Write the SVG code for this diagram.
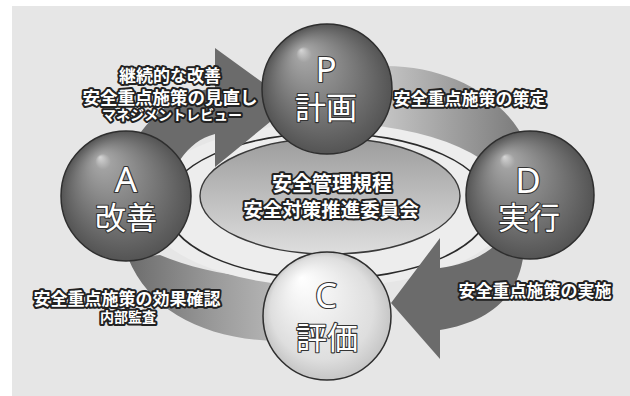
<svg xmlns="http://www.w3.org/2000/svg" width="630" height="396" viewBox="0 0 630 396">
<defs>
<radialGradient id="sphereDark" cx="0.5" cy="0.5" r="0.5" fx="0.3" fy="0.2">
<stop offset="0" stop-color="#d6d6d6"/>
<stop offset="0.12" stop-color="#a2a2a2"/>
<stop offset="0.55" stop-color="#7c7c7c"/>
<stop offset="1" stop-color="#545454"/>
</radialGradient>
<radialGradient id="sphereLight" cx="0.5" cy="0.5" r="0.5" fx="0.3" fy="0.2">
<stop offset="0" stop-color="#ffffff"/>
<stop offset="0.3" stop-color="#f3f3f3"/>
<stop offset="0.8" stop-color="#dedede"/>
<stop offset="1" stop-color="#c6c6c6"/>
</radialGradient>
<linearGradient id="centerGrad" x1="0" y1="0" x2="0" y2="1">
<stop offset="0" stop-color="#9c9c9c"/>
<stop offset="1" stop-color="#dedede"/>
</linearGradient>
<linearGradient id="bandPD" x1="0" y1="0" x2="1" y2="0">
<stop offset="0" stop-color="#c6c6c6"/>
<stop offset="1" stop-color="#787878"/>
</linearGradient>
<linearGradient id="bandCA" x1="0" y1="0" x2="1" y2="0">
<stop offset="0" stop-color="#6c6c6c"/>
<stop offset="0.6" stop-color="#9a9a9a"/>
<stop offset="1" stop-color="#b4b4b4"/>
</linearGradient>
<style>
.lbl{font-family:"Noto Sans CJK JP","Noto Sans",sans-serif;font-weight:700;fill:#ffffff;stroke:#222222;stroke-width:4;stroke-linejoin:round;paint-order:stroke;text-anchor:middle}
.big{font-family:"Noto Sans CJK JP","Noto Sans",sans-serif;font-weight:400;fill:#ffffff;stroke:#333333;stroke-width:2.2;stroke-linejoin:round;paint-order:stroke;text-anchor:middle;font-size:31px}
.letter{font-family:"Noto Sans","Noto Sans CJK JP",sans-serif;font-weight:400;fill:#ffffff;stroke:#333333;stroke-width:2.2;stroke-linejoin:round;paint-order:stroke;text-anchor:middle;font-size:35px}
.sphere{stroke:#2e2e2e;stroke-width:1.5}
.arrow{fill:#6b6b6b}
</style>
</defs>
<rect x="12" y="6" width="618" height="390" fill="#e6e6e6"/>
<g id="connectors">
<path id="band-P-D" d="M380,66 C445,64 505,95 527,145 L470,172 C450,150 420,136 380,132 Z" fill="url(#bandPD)"/>
<path id="band-C-A" d="M272,280 C230,276 190,268 160,255 L128,258 C150,312 205,338 272,341 Z" fill="url(#bandCA)"/>
<ellipse id="plate" cx="328" cy="205" rx="185" ry="82" fill="#ededed"/>
<ellipse id="ring" cx="328" cy="206" rx="162" ry="73" fill="none" stroke="#2a2a2a" stroke-width="1.6"/>
<path id="arrow-A-P" class="arrow" d="M138,136 C160,105 185,92 215,88 L215,48 L292,104 L215,167 L215,134 C200,138 190,146 180,160 Z"/>
<path id="arrow-D-C" class="arrow" d="M440,268 C468,264 488,254 500,240 L524,250 C520,298 488,322 440,330 L440,359 L391,303 L440,238 Z"/>
</g>
<g id="center">
<ellipse cx="330" cy="196" rx="130" ry="58" fill="url(#centerGrad)" stroke="#3a3a3a" stroke-width="1.4"/>
<text class="lbl" x="332" y="191" font-size="20">安全管理規程</text>
<text class="lbl" x="331" y="217" font-size="19.5">安全対策推進委員会</text>
</g>
<g id="node-P">
<circle class="sphere" cx="327" cy="89" r="65" fill="url(#sphereDark)"/>
<text class="letter" x="326" y="82">P</text>
<text class="big" x="326" y="119">計画</text>
</g>
<g id="node-A">
<circle class="sphere" cx="126" cy="196" r="65" fill="url(#sphereDark)"/>
<text class="letter" x="126" y="192">A</text>
<text class="big" x="126" y="229">改善</text>
</g>
<g id="node-D">
<circle class="sphere" cx="530" cy="195" r="64" fill="url(#sphereDark)"/>
<text class="letter" x="528" y="193">D</text>
<text class="big" x="529" y="229">実行</text>
</g>
<g id="node-C">
<circle class="sphere" cx="327" cy="316" r="64" fill="url(#sphereLight)"/>
<text class="letter" x="326" y="308">C</text>
<text class="big" x="327" y="349">評価</text>
</g>
<g id="labels">
<text class="lbl" x="170" y="82" font-size="17">継続的な改善</text>
<text class="lbl" x="170" y="104" font-size="17.5">安全重点施策の見直し</text>
<text class="lbl" x="172" y="120" font-size="14">マネジメントレビュー</text>
<text class="lbl" x="470" y="105" font-size="17">安全重点施策の策定</text>
<text class="lbl" x="127" y="305" font-size="17">安全重点施策の効果確認</text>
<text class="lbl" x="128" y="322" font-size="14">内部監査</text>
<text class="lbl" x="535" y="297" font-size="17">安全重点施策の実施</text>
</g>
</svg>
